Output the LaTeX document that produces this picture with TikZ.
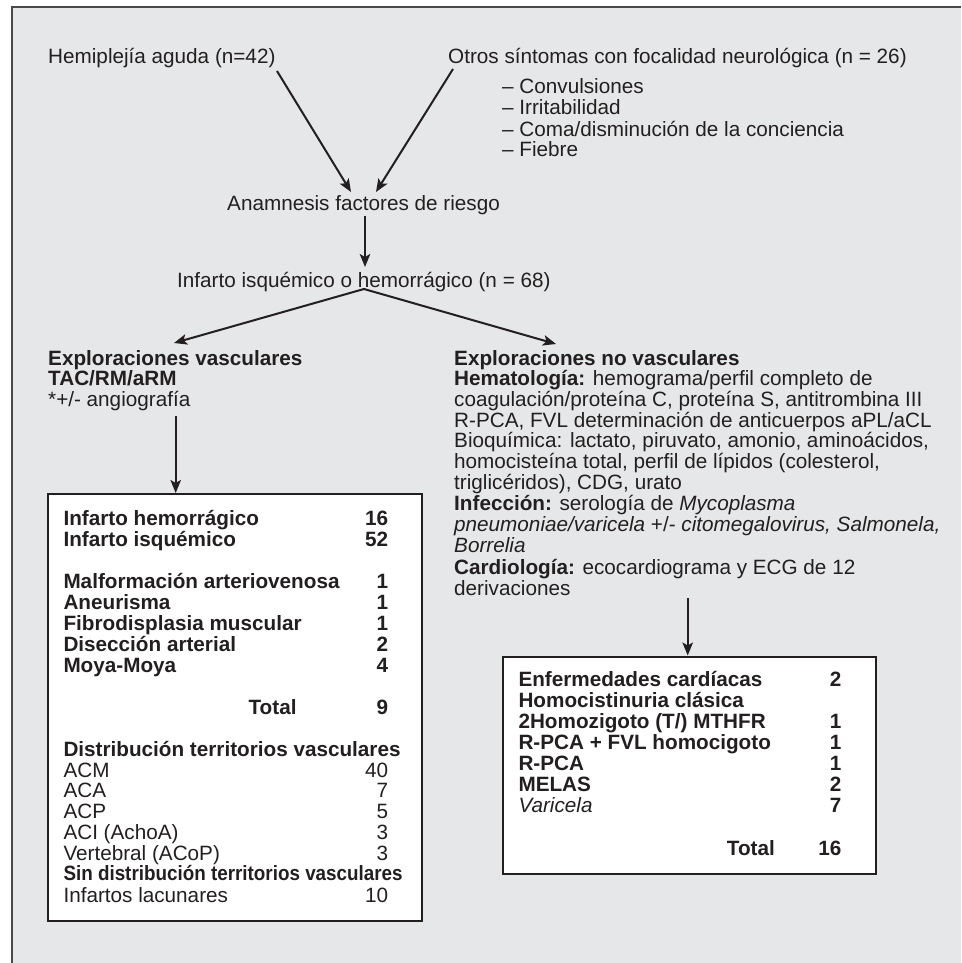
\documentclass[tikz,border=0pt]{standalone}
\usepackage{fontspec}
\setmainfont{Liberation Sans}
\usetikzlibrary{arrows.meta}
\definecolor{ink}{HTML}{231F20}
\definecolor{bg}{HTML}{E6E7E8}
\definecolor{frame}{HTML}{4A4A4A}
\newcommand{\fs}{\fontsize{20.7}{20.9}\selectfont}
\begin{document}
\begin{tikzpicture}[x=1pt,y=-1pt,
  txt/.style={anchor=base west, inner sep=0pt, text=ink, font=\fs},
  btxt/.style={txt, font=\fs\bfseries},
  num/.style={anchor=base east, inner sep=0pt, text=ink, font=\fs},
  bnum/.style={num, font=\fs\bfseries},
  arr/.style={draw=ink, line width=2pt, -{Stealth[length=13pt,width=10.5pt,inset=3pt]}},
  box/.style={draw=ink, fill=white, line width=2pt, anchor=north west, inner sep=0pt}]
\useasboundingbox (0,0) rectangle (961,963);
\fill[white] (0,0) rectangle (961,963);
\fill[bg] (12,7) rectangle (961,963);
\draw[frame, line width=1.3pt] (12,963) -- (12,7) -- (961,7);

% top
\node[txt] (hemi) at (48,64) {Hemiplejía aguda (n=42)};
\node[txt] (otros) at (448,64) {Otros síntomas con focalidad neurológica (n = 26)};
\node[txt] (b1) at (502,94) {– Convulsiones};
\node[txt] (b2) at (502,115) {– Irritabilidad};
\node[txt] (b3) at (502,136) {– Coma/disminución de la conciencia};
\node[txt] (b4) at (502,157) {– Fiebre};
\node[txt] (anam) at (227,210) {Anamnesis factores de riesgo};
\node[txt] (inf) at (177,287) {Infarto isquémico o hemorrágico (n = 68)};

\coordinate (h1) at (277,71);  \coordinate (h2) at (351,192);
\coordinate (o1) at (453,69);  \coordinate (o2) at (376,192);
\coordinate (a1) at (365,216); \coordinate (a2) at (365,267);
\coordinate (s)  at (364,289);
\coordinate (l2) at (174,343); \coordinate (r2) at (556,344);
\draw[arr] (h1) -- (h2);
\draw[arr] (o1) -- (o2);
\draw[arr] (a1) -- (a2);
\draw[arr] (s) -- (l2);
\draw[arr] (s) -- (r2);

% left column
\node[btxt] (ev) at (48,365) {Exploraciones vasculares};
\node[btxt] (tac) at (48,385) {TAC/RM/aRM};
\node[txt] (ang) at (48,406) {*+/- angiografía};
\node[box, minimum width=373.4pt, minimum height=427pt] (lbox) at (47.3,493) {};
\coordinate (lv1) at (175.7,416);
\draw[arr] (lv1) -- (lv1 |- lbox.north);

\node[btxt] (l1) at (63.3,525) {Infarto hemorrágico};      \node[bnum] (n1) at (388.3,525) {16};
\node[btxt] (l2t) at (63.3,546) {Infarto isquémico};       \node[bnum] (n2) at (388.3,546) {52};
\node[btxt] (l3) at (63.3,588) {Malformación arteriovenosa}; \node[bnum] (n3) at (388.3,588) {1};
\node[btxt] (l4) at (63.3,609.3) {Aneurisma};              \node[bnum] (n4) at (388.3,609.3) {1};
\node[btxt] (l5) at (63.3,630.5) {Fibrodisplasia muscular}; \node[bnum] (n5) at (388.3,630.5) {1};
\node[btxt] (l6) at (63.3,651.5) {Disección arterial};     \node[bnum] (n6) at (388.3,651.5) {2};
\node[btxt] (l7) at (63.3,672.3) {Moya-Moya};              \node[bnum] (n7) at (388.3,672.3) {4};
\node[bnum] (lt) at (296.7,714) {Total};                   \node[bnum] (nt) at (388.3,714) {9};
\node[btxt] (l8) at (63.3,756) {Distribución territorios vasculares};
\node[txt] (l9) at (63.3,777) {ACM};                       \node[num] (n9) at (388.3,777) {40};
\node[txt] (l10) at (63.3,797.5) {ACA};                    \node[num] (n10) at (388.3,797.5) {7};
\node[txt] (l11) at (63.3,818.3) {ACP};                    \node[num] (n11) at (388.3,818.3) {5};
\node[txt] (l12) at (63.3,839.2) {ACI (AchoA)};            \node[num] (n12) at (388.3,839.2) {3};
\node[txt] (l13) at (63.3,860) {Vertebral (ACoP)};         \node[num] (n13) at (388.3,860) {3};
\node[btxt] (l14) at (63.3,880.7) {\scalebox{0.91}[1]{Sin distribución territorios vasculares}};
\node[txt] (l15) at (63.3,902) {Infartos lacunares};       \node[num] (n15) at (388.3,902) {10};

% right column
\node[btxt] (env) at (454,365) {Exploraciones no vasculares};
\node[txt] (r1) at (454,385.5) {\textbf{Hematología:} hemograma/perfil completo de};
\node[txt] (r2t) at (454,406.3) {coagulación/proteína C, proteína S, antitrombina III};
\node[txt] (r3) at (454,427) {R-PCA, FVL determinación de anticuerpos aPL/aCL};
\node[txt] (r4) at (454,447.8) {Bioquímica: lactato, piruvato, amonio, aminoácidos,};
\node[txt] (r5) at (454,468.6) {homocisteína total, perfil de lípidos (colesterol,};
\node[txt] (r6) at (454,489.4) {triglicéridos), CDG, urato};
\node[txt] (r7) at (454,510.5) {\textbf{Infección:} serología de \textit{Mycoplasma}};
\node[txt] (r8) at (454,531.6) {\textit{pneumoniae/varicela} +/- \textit{citomegalovirus, Salmonela,}};
\node[txt] (r9) at (454,552.7) {\textit{Borrelia}};
\node[txt] (r10) at (454,574.5) {\textbf{Cardiología:} ecocardiograma y ECG de 12};
\node[txt] (r11) at (454,595.5) {derivaciones};

\node[box, minimum width=372.7pt, minimum height=217pt] (rbox) at (502.3,655.5) {};
\coordinate (rv1) at (687.7,598);
\draw[arr] (rv1) -- (rv1 |- rbox.north);

\node[btxt] (k1) at (518.3,686.7) {Enfermedades cardíacas};   \node[bnum] (m1) at (841.7,686.7) {2};
\node[btxt] (k2) at (518.3,707.8) {Homocistinuria clásica};
\node[btxt] (k3) at (518.3,728.9) {2Homozigoto (T/) MTHFR};   \node[bnum] (m3) at (841.7,728.9) {1};
\node[btxt] (k4) at (518.3,749.9) {R-PCA + FVL homocigoto};   \node[bnum] (m4) at (841.7,749.9) {1};
\node[btxt] (k5) at (518.3,770.9) {R-PCA};                    \node[bnum] (m5) at (841.7,770.9) {1};
\node[btxt] (k6) at (518.3,791.8) {MELAS};                    \node[bnum] (m6) at (841.7,791.8) {2};
\node[txt] (k7) at (518.3,812.7) {\textit{Varicela}};         \node[bnum] (m7) at (841.7,812.7) {7};
\node[bnum] (kt) at (775,855) {Total};                        \node[bnum] (mt) at (841.7,855) {16};
\end{tikzpicture}
\end{document}
